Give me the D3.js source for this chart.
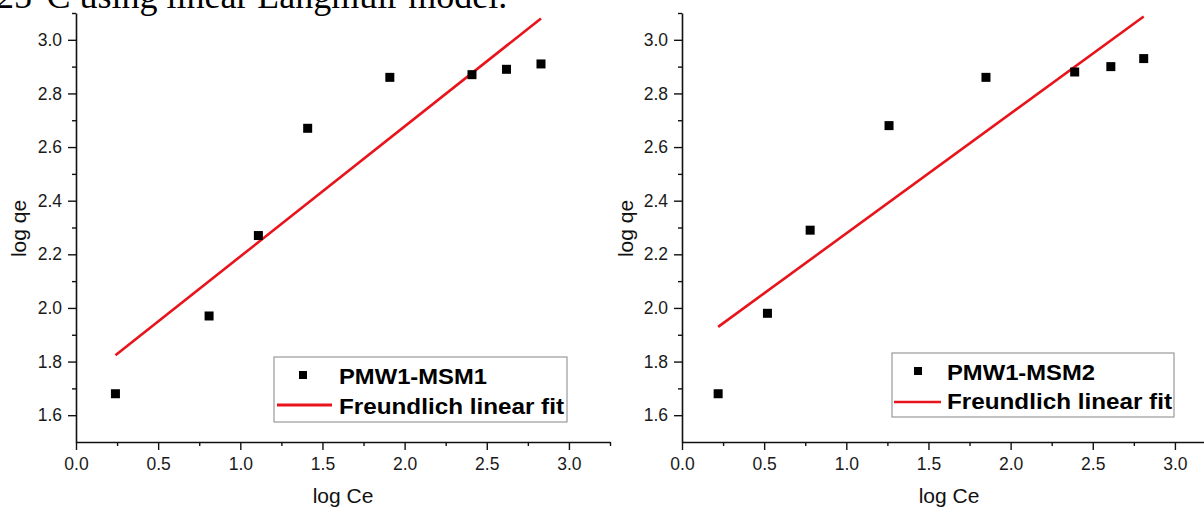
<!DOCTYPE html>
<html>
<head>
<meta charset="utf-8">
<script src="https://cdn.jsdelivr.net/npm/d3@7"></script>
<style>
  html, body { margin: 0; padding: 0; background: #ffffff; overflow: hidden; }
  svg { display: block; }
  text { font-family: "Liberation Sans", Arial, sans-serif; fill: #111; }
</style>
</head>
<body>
<svg id="chart" width="1204" height="510"></svg>
<script>
// Freundlich isotherm data (log Ce vs log qe) for the two sorbents
const seriesNames = ["PMW1-MSM1", "PMW1-MSM2"];
const logCe1 = [0.24, 0.81, 1.11, 1.41, 1.91, 2.41, 2.62, 2.83];
const logQe1 = [1.68, 1.97, 2.27, 2.67, 2.86, 2.87, 2.89, 2.91];
const logCe2 = [0.22, 0.52, 0.78, 1.26, 1.85, 2.39, 2.61, 2.81];
const logQe2 = [1.68, 1.98, 2.29, 2.68, 2.86, 2.88, 2.90, 2.93];

// Linear fit parameters (log qe = intercept + slope * log Ce)
const fitSlope = [0.485, 0.447];
const fitIntercept = [1.707, 1.831];
const fitLabel = "Freundlich linear fit";

// Axis ticks
const xTicks = [0.0, 0.5, 1.0, 1.5, 2.0, 2.5, 3.0];
const xMinorTicks = [0.25, 0.75, 1.25, 1.75, 2.25, 2.75, 3.25];
const yTicks = [1.6, 1.8, 2.0, 2.2, 2.4, 2.6, 2.8, 3.0];
const yMinorTicks = [1.7, 1.9, 2.1, 2.3, 2.5, 2.7, 2.9, 3.1];
const xDomain = [0, 3.25];
const yDomain = [1.5, 3.1];

const caption = "25°C using linear Langmuir model.";

const svg = d3.select("#chart");

// Caption line from the surrounding document, running off the top edge
svg.append("text")
  .attr("x", -4)
  .attr("y", 8)
  .style("font-family", "'Liberation Serif', 'Times New Roman', serif")
  .style("font-size", "36px")
  .style("fill", "#000")
  .text(caption);

const panels = [
  { xs: logCe1, ys: logQe1, name: seriesNames[0], slope: fitSlope[0], intercept: fitIntercept[0],
    left: 76, right: 610, top: 13, bottom: 442, yTitleX: 19,
    legend: { x: 274, y: 357, w: 293, h: 65, sym: 303, text: 339, row1: 384, row2: 414, lineY: 405, lineX0: 277, lineX1: 332, lineW: 3.2 } },
  { xs: logCe2, ys: logQe2, name: seriesNames[1], slope: fitSlope[1], intercept: fitIntercept[1],
    left: 682, right: 1216, top: 13, bottom: 442, yTitleX: 626,
    legend: { x: 892, y: 353, w: 282, h: 64, sym: 918, text: 947, row1: 380, row2: 409, lineY: 402, lineX0: 894, lineX1: 941, lineW: 2.4 } }
];

panels.forEach(p => {
  const x = d3.scaleLinear().domain(xDomain).range([p.left, p.right]);
  const y = d3.scaleLinear().domain(yDomain).range([p.bottom, p.top]);
  const g = svg.append("g");

  // Minor ticks
  g.append("g")
    .attr("transform", `translate(0,${p.bottom})`)
    .call(d3.axisBottom(x).tickValues(xMinorTicks).tickSize(4).tickFormat(""))
    .call(a => a.select(".domain").remove())
    .call(a => a.selectAll("line").attr("stroke", "#111").attr("stroke-width", 1.4));
  g.append("g")
    .attr("transform", `translate(${p.left},0)`)
    .call(d3.axisLeft(y).tickValues(yMinorTicks).tickSize(4).tickFormat(""))
    .call(a => a.select(".domain").remove())
    .call(a => a.selectAll("line").attr("stroke", "#111").attr("stroke-width", 1.4));

  // Major axes
  const xAxis = g.append("g")
    .attr("transform", `translate(0,${p.bottom})`)
    .call(d3.axisBottom(x).tickValues(xTicks).tickSize(8).tickSizeOuter(0).tickPadding(8).tickFormat(d3.format(".1f")));
  const yAxis = g.append("g")
    .attr("transform", `translate(${p.left},0)`)
    .call(d3.axisLeft(y).tickValues(yTicks).tickSize(8).tickSizeOuter(0).tickPadding(6).tickFormat(d3.format(".1f")));
  [xAxis, yAxis].forEach(a => {
    a.select(".domain").attr("stroke", "#111").attr("stroke-width", 1.6);
    a.selectAll(".tick line").attr("stroke", "#111").attr("stroke-width", 1.4);
    a.selectAll(".tick text").style("font-size", "17.5px").style("fill", "#1a1a1a");
  });

  // Axis titles
  g.append("text")
    .attr("x", (p.left + p.right) / 2)
    .attr("y", 503)
    .attr("text-anchor", "middle")
    .style("font-size", "21px")
    .text("log Ce");
  g.append("text")
    .attr("transform", `translate(${p.yTitleX},${(y(2.2) + y(2.4)) / 2 + 1}) rotate(-90)`)
    .attr("text-anchor", "middle")
    .attr("dy", "0.35em")
    .style("font-size", "21px")
    .text("log qe");

  // Fit line across the measured range
  const xr = d3.extent(p.xs);
  const fitPts = xr.map(v => [v, p.intercept + p.slope * v]);
  g.append("path")
    .datum(fitPts)
    .attr("fill", "none")
    .attr("stroke", "#e8141b")
    .attr("stroke-width", 2.6)
    .attr("d", d3.line().x(d => x(d[0])).y(d => y(d[1])));

  // Data points
  const s = 9;
  g.selectAll("rect.pt")
    .data(p.xs.map((v, i) => [v, p.ys[i]]))
    .join("rect")
    .attr("class", "pt")
    .attr("x", d => x(d[0]) - s / 2)
    .attr("y", d => y(d[1]) - s / 2)
    .attr("width", s)
    .attr("height", s)
    .attr("fill", "#000");

  // Legend
  const L = p.legend;
  const lg = g.append("g");
  lg.append("rect")
    .attr("x", L.x).attr("y", L.y).attr("width", L.w).attr("height", L.h)
    .attr("fill", "#fff").attr("stroke", "#9a9a9a").attr("stroke-width", 1.2);
  lg.append("rect")
    .attr("x", L.sym - 4).attr("y", L.row1 - 13).attr("width", 8).attr("height", 8)
    .attr("fill", "#000");
  lg.append("line")
    .attr("x1", L.lineX0).attr("x2", L.lineX1).attr("y1", L.lineY).attr("y2", L.lineY)
    .attr("stroke", "#e8141b").attr("stroke-width", L.lineW);
  lg.append("text")
    .attr("x", L.text).attr("y", L.row1)
    .style("font-size", "22px").style("font-weight", "bold").style("fill", "#000")
    .attr("textLength", 148).attr("lengthAdjust", "spacingAndGlyphs")
    .text(p.name);
  lg.append("text")
    .attr("x", L.text).attr("y", L.row2)
    .style("font-size", "22px").style("font-weight", "bold").style("fill", "#000")
    .attr("textLength", 225).attr("lengthAdjust", "spacingAndGlyphs")
    .text(fitLabel);
});
</script>
</body>
</html>
